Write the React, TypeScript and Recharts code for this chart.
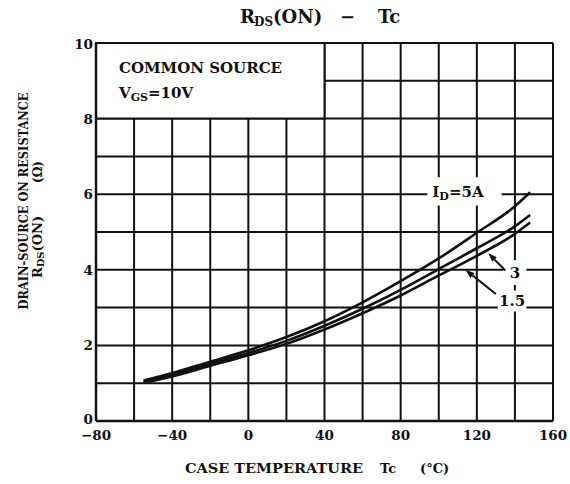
import React from 'react';
import { LineChart, Line, XAxis, YAxis, CartesianGrid, ReferenceArea, ReferenceLine } from 'recharts';

const temps = [-55, -40, -20, 0, 20, 40, 60, 80, 100, 120, 140, 148];
const r5A = [1.07, 1.27, 1.57, 1.87, 2.22, 2.64, 3.14, 3.7, 4.3, 4.98, 5.68, 6.05];
const r3A = [1.04, 1.22, 1.51, 1.8, 2.12, 2.52, 2.97, 3.47, 4.02, 4.57, 5.15, 5.45];
const r15A = [1.01, 1.18, 1.46, 1.74, 2.04, 2.42, 2.85, 3.32, 3.85, 4.37, 4.95, 5.25];

const xTicks = [-80, -60, -40, -20, 0, 20, 40, 60, 80, 100, 120, 140, 160];
const xLabelTicks = [-80, -40, 0, 40, 80, 120, 160];
const yTicks = [0, 1, 2, 3, 4, 5, 6, 7, 8, 9, 10];
const yLabelTicks = [0, 2, 4, 6, 8, 10];

const data = temps.map((t, i) => ({ t, a5: r5A[i], a3: r3A[i], a15: r15A[i] }));

const FONT = '"DejaVu Serif", "Liberation Serif", serif';
const INK = '#111';

const fmtX = (v: number) => (v < 0 ? '\u2212' + Math.abs(v) : String(v));

const XTick = (props: any) => {
  const { x, y, payload } = props;
  if (!xLabelTicks.includes(payload.value)) return <g />;
  return (
    <text x={x} y={y + 19} textAnchor="middle" fontFamily={FONT} fontWeight="bold" fontSize={13.5} fill={INK}>
      {fmtX(payload.value)}
    </text>
  );
};

const YTick = (props: any) => {
  const { x, y, payload } = props;
  if (!yLabelTicks.includes(payload.value)) return <g />;
  const dy = payload.value === 0 ? 3 : payload.value === 10 ? 6 : 5;
  return (
    <text x={x - 3} y={y + dy} textAnchor="end" fontFamily={FONT} fontWeight="bold" fontSize={13.5} fill={INK}>
      {payload.value}
    </text>
  );
};

const LegendLabel = (props: any) => {
  const vb = props.viewBox || {};
  const x0 = vb.x + 23;
  const y0 = vb.y + 30;
  return (
    <g fontFamily={FONT} fontWeight="bold" fill={INK}>
      <text x={x0} y={y0} fontSize={15}>COMMON SOURCE</text>
      <text x={x0} y={y0 + 25} fontSize={15}>
        V<tspan fontSize={11} dy={3}>GS</tspan><tspan dy={-3} fontSize={15}>=10V</tspan>
      </text>
    </g>
  );
};

const Id5Label = (props: any) => {
  const vb = props.viewBox || {};
  return (
    <text x={vb.x + 5} y={vb.y + vb.height / 2 + 6} fontFamily={FONT} fontWeight="bold" fontSize={15} fill={INK}>
      I<tspan fontSize={11} dy={3}>D</tspan><tspan dy={-3}>=5A</tspan>
    </text>
  );
};

const SmallLabel = (text: string) => (props: any) => {
  const vb = props.viewBox || {};
  return (
    <text x={vb.x + vb.width / 2} y={vb.y + vb.height / 2 + 5} textAnchor="middle" fontFamily={FONT} fontWeight="bold" fontSize={15} fill={INK}>
      {text}
    </text>
  );
};

const ArrowLine = (props: any) => {
  const { x1, y1, x2, y2 } = props;
  const dx = x1 - x2;
  const dy = y1 - y2;
  const len = Math.sqrt(dx * dx + dy * dy) || 1;
  const ux = dx / len;
  const uy = dy / len;
  const L = 9;
  const W = 3.2;
  const bx = x1 - ux * L;
  const by = y1 - uy * L;
  const p1 = `${x1},${y1}`;
  const p2 = `${bx - uy * W},${by + ux * W}`;
  const p3 = `${bx + uy * W},${by - ux * W}`;
  return (
    <g>
      <line x1={bx} y1={by} x2={x2} y2={y2} stroke={INK} strokeWidth={2} />
      <polygon points={`${p1} ${p2} ${p3}`} fill={INK} />
    </g>
  );
};

export default function App() {
  return (
    <div style={{ position: 'absolute', left: 0, top: 0, width: 570, height: 484, background: '#fff' }}>
      <LineChart width={570} height={484} data={data} margin={{ top: 43, right: 17, left: 0, bottom: 33 }}>
        <CartesianGrid stroke={INK} strokeWidth={2} />
        <XAxis
          dataKey="t"
          type="number"
          domain={[-80, 160]}
          ticks={xTicks}
          interval={0}
          tick={<XTick />}
          tickLine={false}
          tickSize={0}
          tickMargin={0}
          height={30}
          axisLine={{ stroke: INK, strokeWidth: 2.5 }}
          allowDataOverflow
        />
        <YAxis
          type="number"
          domain={[0, 10]}
          ticks={yTicks}
          interval={0}
          tick={<YTick />}
          tickLine={false}
          tickSize={0}
          tickMargin={0}
          width={96}
          axisLine={{ stroke: INK, strokeWidth: 2.5 }}
          allowDataOverflow
        />
        <ReferenceArea x1={-80} x2={40} y1={8} y2={10} fill="#fff" fillOpacity={1} stroke={INK} strokeWidth={2} label={LegendLabel} />
        <ReferenceArea x1={94} x2={133} y1={5.7} y2={6.45} fill="#fff" fillOpacity={1} stroke="none" label={Id5Label} />
        <ReferenceArea x1={134} x2={146} y1={3.6} y2={4.25} fill="#fff" fillOpacity={1} stroke="none" label={SmallLabel('3')} />
        <ReferenceArea x1={131} x2={146} y1={2.9} y2={3.45} fill="#fff" fillOpacity={1} stroke="none" label={SmallLabel('1.5')} />
        <ReferenceLine segment={[{ x: 126, y: 4.44 }, { x: 135, y: 3.98 }]} shape={ArrowLine} stroke={INK} />
        <ReferenceLine segment={[{ x: 114, y: 4.0 }, { x: 130, y: 3.36 }]} shape={ArrowLine} stroke={INK} />
        <Line type="monotone" dataKey="a5" stroke={INK} strokeWidth={2.6} dot={false} isAnimationActive={false} />
        <Line type="monotone" dataKey="a3" stroke={INK} strokeWidth={2.6} dot={false} isAnimationActive={false} />
        <Line type="monotone" dataKey="a15" stroke={INK} strokeWidth={2.6} dot={false} isAnimationActive={false} />
      </LineChart>
      <svg width={570} height={484} style={{ position: 'absolute', left: 0, top: 0, pointerEvents: 'none' }}>
        <g fontFamily={FONT} fill={INK} fontWeight="bold">
          <text x={240} y={23} fontSize={18}>R</text>
          <text x={254} y={26} fontSize={12}>DS</text>
          <text x={273} y={23} fontSize={18}>(ON)</text>
          <text x={340} y={23} fontSize={18}>{'\u2212'}</text>
          <text x={378} y={23} fontSize={18}>Tc</text>
        </g>
        <g fontFamily={FONT} fontWeight="bold" fontSize={13} fill={INK}>
          <text x={185} y={473} textLength={178} lengthAdjust="spacingAndGlyphs">CASE TEMPERATURE</text>
          <text x={380} y={473}>Tc</text>
          <text x={420} y={473}>(°C)</text>
        </g>
        <g fontFamily={FONT} fontWeight="bold" fill={INK}>
          <text x={0} y={0} transform="translate(28,201) rotate(-90)" textAnchor="middle" fontSize={12.5} textLength={217} lengthAdjust="spacingAndGlyphs">
            DRAIN-SOURCE ON RESISTANCE
          </text>
          <text x={0} y={0} transform="translate(42,247) rotate(-90)" textAnchor="middle" fontSize={13}>
            R<tspan fontSize={10} dy={2}>DS</tspan><tspan dy={-2}>(ON)</tspan>
          </text>
          <text x={0} y={0} transform="translate(42,172) rotate(-90)" textAnchor="middle" fontSize={12}>
            (Ω)
          </text>
        </g>
      </svg>
    </div>
  );
}
